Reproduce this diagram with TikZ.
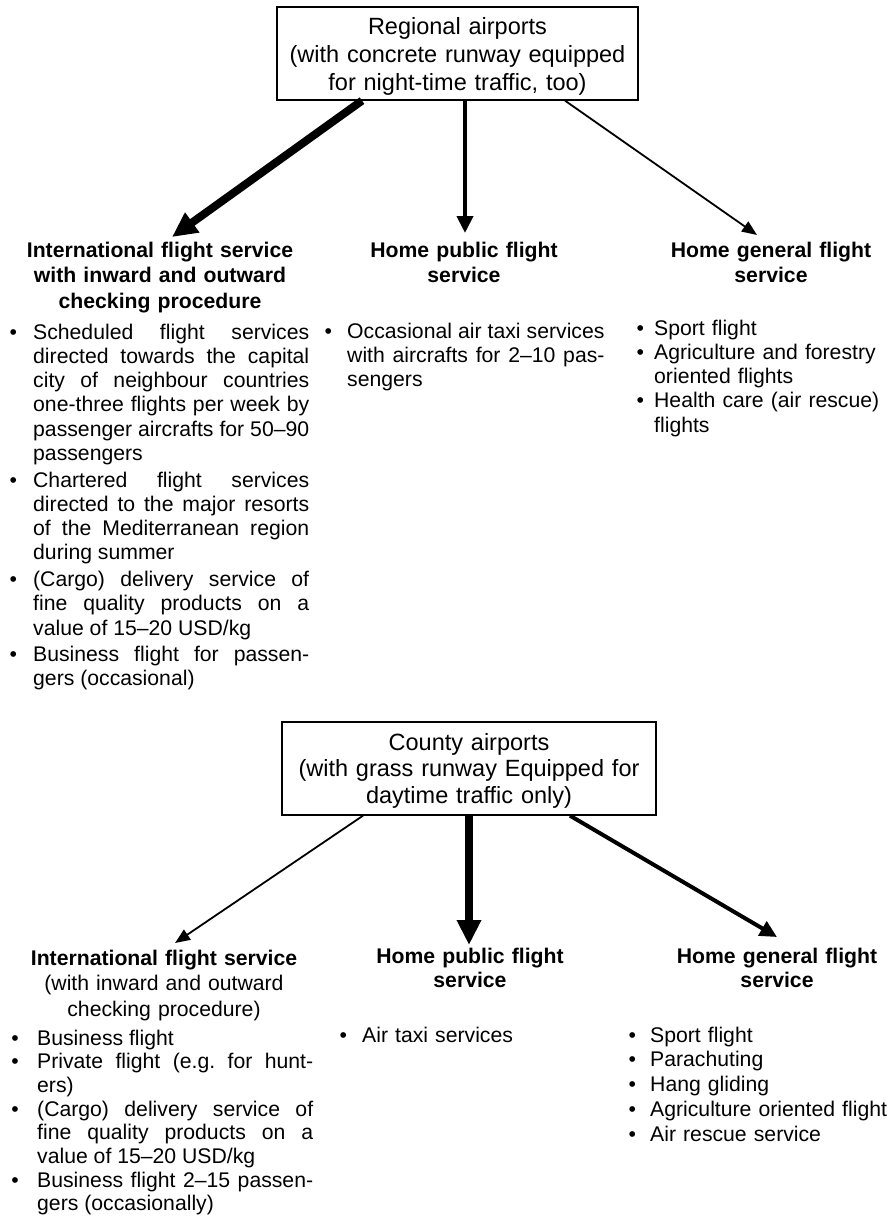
\documentclass[tikz,border=0pt]{standalone}
\usepackage{fontspec}
\setmainfont{Liberation Sans}
\usetikzlibrary{arrows.meta}
\tolerance=10000
\hyphenpenalty=10000
\exhyphenpenalty=10000
\frenchspacing
\newcommand{\bul}[2]{\hangindent=#1\relax\hangafter=1\relax\makebox[#1][l]{\textbullet}\ignorespaces#2\par}
\begin{document}
\begin{tikzpicture}[x=1pt,y=-1pt,
  boxframe/.style={draw, line width=1.3pt, inner sep=0pt},
  boxtext/.style={inner sep=0pt, anchor=base, align=center, font=\fontsize{23.5pt}{27.5pt}\selectfont},
  head/.style={inner sep=0pt, anchor=base, align=center, font=\fontsize{21.2pt}{25.5pt}\selectfont\bfseries},
  jlist/.style={inner sep=0pt, anchor=base west, align=justify},
  rlist/.style={inner sep=0pt, anchor=base west, align=left},
  arrA/.style={line width=8pt, -{Triangle[length=25pt,width=23pt]}},
  arrB/.style={line width=4pt, -{Triangle[length=17pt,width=16pt]}},
  arrC/.style={line width=1.8pt, -{Triangle[length=15pt,width=12pt]}}
]
\useasboundingbox[fill=white] (0,0) rectangle (890,1223);

% ---------- top part ----------
\node[boxframe, minimum width=361pt, minimum height=93pt] (rbox) at (457.5,53.5) {};
\node[boxtext, text width=360pt] (rtext) at (457.5,35) {Regional airports\\(with concrete runway equipped\\for night-time traffic, too)};

\node[head, text width=300pt] (h1) at (160,257) {International flight service\\with inward and outward\\checking procedure};
\node[head, text width=260pt] (h2) at (464,257) {Home public flight\\service};
\node[head, text width=260pt] (h3) at (771,257) {Home general flight\\service};

\coordinate (t1) at (172,237);
\coordinate (t2) at (465,233);
\coordinate (t3) at (757,235);
\draw[arrA] ([xshift=-95.5pt]rbox.south) -- (t1);
\draw[arrB] ([xshift=7.5pt]rbox.south) -- (t2);
\draw[arrC] ([xshift=107.5pt]rbox.south) -- (t3);

\node[jlist, text width=299.7pt, font=\fontsize{21.2pt}{24.3pt}\selectfont] (l1) at (9.3,339) {\setlength{\parskip}{2.2pt}%
\bul{23.7pt}{Scheduled flight services\linebreak directed towards the capital\linebreak city of neighbour countries\linebreak one-three flights per week by\linebreak passenger aircrafts for 50--90\linebreak passengers}%
\bul{23.7pt}{Chartered flight services\linebreak directed to the major resorts\linebreak of the Mediterranean region\linebreak during summer}%
\bul{23.7pt}{(Cargo) delivery service of\linebreak fine quality products on a\linebreak value of 15--20 USD/kg}%
\bul{23.7pt}{Business flight for passen-\linebreak gers (occasional)}};

\node[jlist, text width=280pt, font=\fontsize{21.2pt}{24pt}\selectfont] (l2) at (324.3,338) {%
\bul{22.7pt}{Occasional air taxi services\linebreak with aircrafts for 2--10 pas-\linebreak sengers}};

\node[rlist, text width=253pt, font=\fontsize{21.2pt}{24.25pt}\selectfont] (l3) at (636.3,335) {%
\bul{17.7pt}{Sport flight}%
\bul{17.7pt}{Agriculture and forestry\newline oriented flights}%
\bul{17.7pt}{Health care (air rescue)\newline flights}};

% ---------- bottom part ----------
\node[boxframe, minimum width=374pt, minimum height=93pt] (cbox) at (469,768.5) {};
\node[boxtext, text width=370pt, font=\fontsize{23.5pt}{26.5pt}\selectfont] (ctext) at (469,750) {County airports\\(with grass runway Equipped for\\daytime traffic only)};

\node[head, text width=300pt] (h4) at (164,965) {International flight service\\\mdseries(with inward and outward\\checking procedure)};
\node[head, text width=260pt, font=\fontsize{21.2pt}{24.5pt}\selectfont\bfseries] (h5) at (470,963) {Home public flight\\service};
\node[head, text width=260pt, font=\fontsize{21.2pt}{24.5pt}\selectfont\bfseries] (h6) at (777,963) {Home general flight\\service};

\coordinate (t4) at (175,943);
\coordinate (t5) at (469,945);
\coordinate (t6) at (777,937);
\draw[arrC] ([xshift=-106pt]cbox.south) -- (t4);
\draw[arrA] (cbox.south) -- (t5);
\draw[arrB] ([xshift=101pt]cbox.south) -- (t6);

\node[jlist, text width=301.7pt, font=\fontsize{21.2pt}{23.7pt}\selectfont] (l4) at (11.3,1045) {%
\bul{25.7pt}{Business flight}%
\bul{25.7pt}{Private flight (e.g. for hunt-\linebreak ers)}%
\bul{25.7pt}{(Cargo) delivery service of\linebreak fine quality products on a\linebreak value of 15--20 USD/kg}%
\bul{25.7pt}{Business flight 2--15 passen-\linebreak gers (occasionally)}};

\node[rlist, text width=220pt, font=\fontsize{21.2pt}{24pt}\selectfont] (l5) at (339.3,1042) {%
\bul{22.7pt}{Air taxi services}};

\node[rlist, text width=261pt, font=\fontsize{21.2pt}{24.75pt}\selectfont] (l6) at (628.3,1042) {%
\bul{21.7pt}{Sport flight}%
\bul{21.7pt}{Parachuting}%
\bul{21.7pt}{Hang gliding}%
\bul{21.7pt}{Agriculture oriented flight}%
\bul{21.7pt}{Air rescue service}};
\end{tikzpicture}
\end{document}
